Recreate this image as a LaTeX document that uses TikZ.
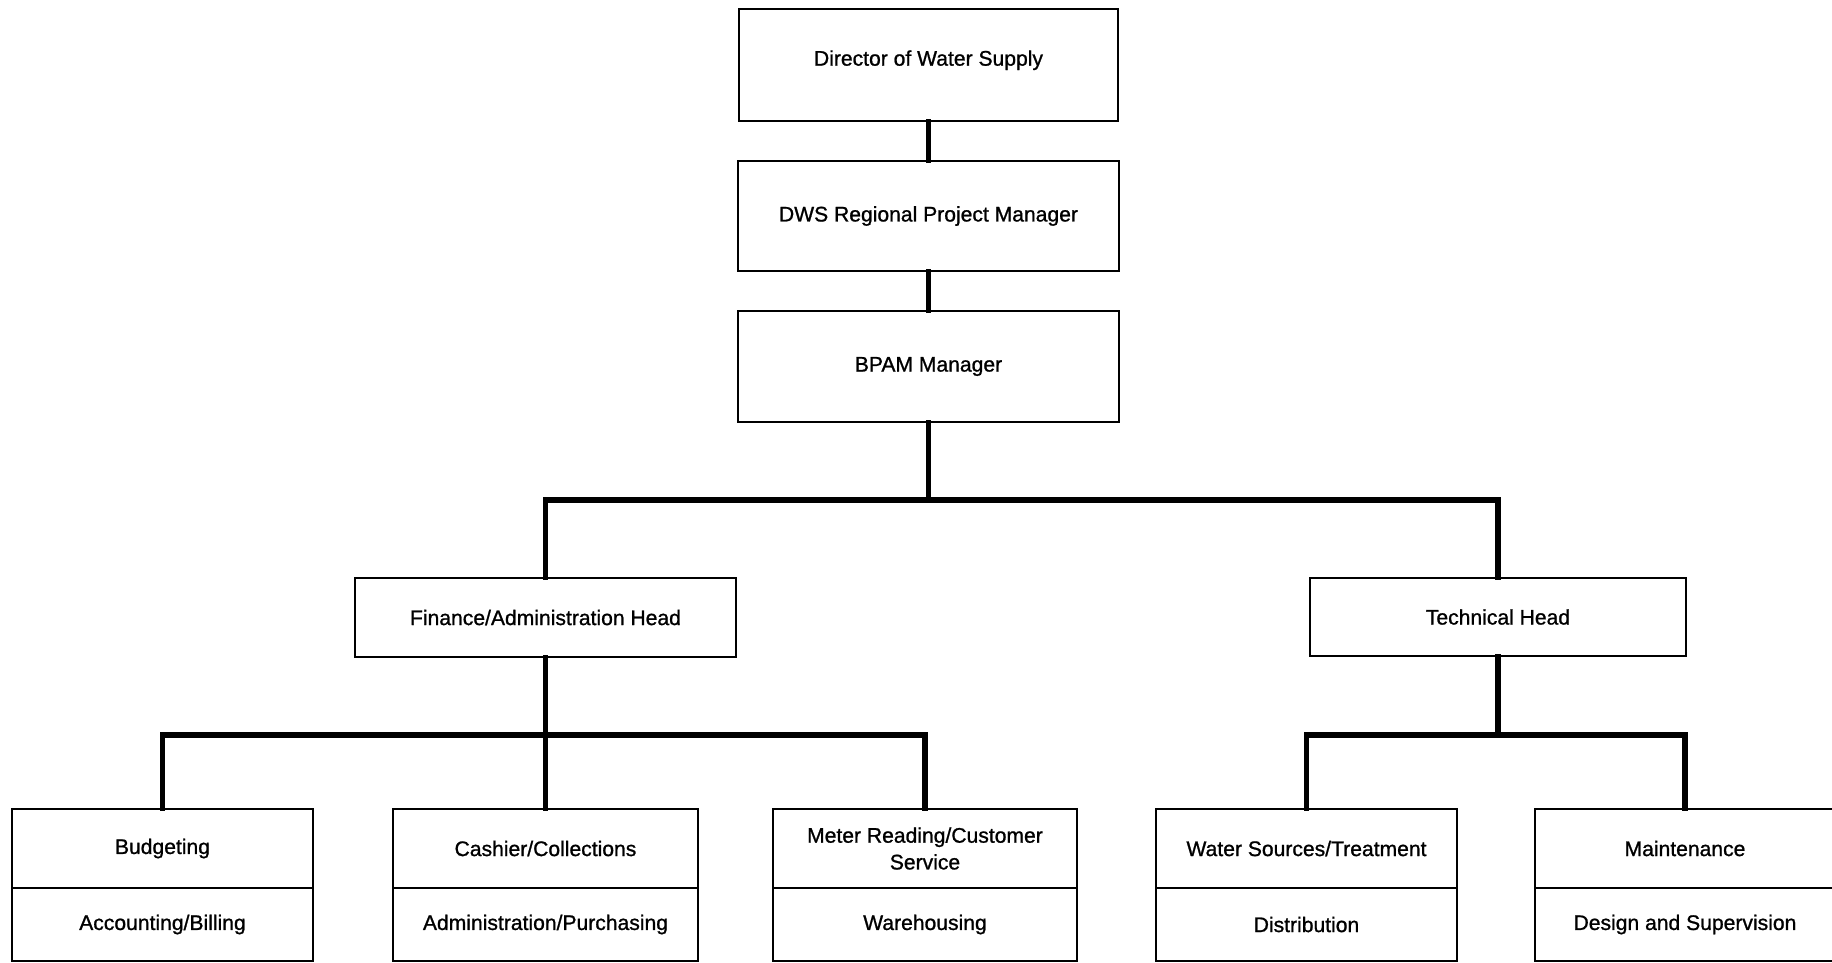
\documentclass[tikz,border=0pt]{standalone}
\usepackage{fontspec}
\newfontfamily\orgfont[FakeBold=1]{Liberation Sans}
\begin{document}
\begin{tikzpicture}[x=0.01cm, y=-0.01cm,
  box/.style={draw=black, line width=0.6pt, fill=white, inner sep=0pt,
    font=\orgfont\fontsize{6}{7.6}\selectfont, align=center},
  conn/.style={line width=1.5pt, line join=miter, line cap=rect}]
\useasboundingbox (0,0) rectangle (1832,963);
\clip (0,0) rectangle (1832,963);

% top chain
\node[box, minimum width=3.78cm, minimum height=1.12cm] (dir)  at (928.5,65)    {\raisebox{0.14cm}{Director of Water Supply}};
\node[box, minimum width=3.80cm, minimum height=1.10cm] (dws)  at (928.5,216)   {DWS Regional Project Manager};
\node[box, minimum width=3.80cm, minimum height=1.11cm] (bpam) at (928.5,366.5) {BPAM Manager};

% heads
\node[box, minimum width=3.81cm, minimum height=0.79cm] (fin)  at (545.5,617.5) {Finance/Administration Head};
\node[box, minimum width=3.76cm, minimum height=0.78cm] (tech) at (1498,617)    {Technical Head};

% sections (upper and lower cells)
\node[box, minimum width=3.01cm, minimum height=0.79cm] (bud)    at (162.5,848.5) {Budgeting};
\node[box, minimum width=3.01cm, minimum height=0.73cm] (budl)   at (162.5,924.5) {Accounting/Billing};
\node[box, minimum width=3.05cm, minimum height=0.79cm] (cash)   at (545.5,848.5) {Cashier/Collections};
\node[box, minimum width=3.05cm, minimum height=0.73cm] (cashl)  at (545.5,924.5) {Administration/Purchasing};
\node[box, minimum width=3.04cm, minimum height=0.79cm] (meter)  at (925,848.5)   {Meter Reading/Customer\\Service};
\node[box, minimum width=3.04cm, minimum height=0.73cm] (meterl) at (925,924.5)   {Warehousing};
\node[box, minimum width=3.01cm, minimum height=0.79cm] (water)  at (1306.5,848.5) {Water Sources/Treatment};
\node[box, minimum width=3.01cm, minimum height=0.73cm] (waterl) at (1306.5,924.5) {Distribution};
\node[box, minimum width=3.00cm, minimum height=0.79cm] (maint)  at (1685,848.5)  {Maintenance};
\node[box, minimum width=3.00cm, minimum height=0.73cm] (maintl) at (1685,924.5)  {Design and Supervision};

% bus junctions
\coordinate (busA) at (928.5,500);
\coordinate (busB) at (545.5,735);
\coordinate (busC) at (1498,735);

% connectors
\draw[conn] (dir.south) -- (dws.north);
\draw[conn] (dws.south) -- (bpam.north);
\draw[conn] (bpam.south) -- (busA);
\draw[conn] (fin.north) |- (busA) -| (tech.north);
\draw[conn] (fin.south) -- (busB);
\draw[conn] (bud.north) |- (busB) -| (meter.north);
\draw[conn] (cash.north) -- (busB);
\draw[conn] (tech.south) -- (busC);
\draw[conn] (water.north) |- (busC) -| (maint.north);
\end{tikzpicture}
\end{document}
